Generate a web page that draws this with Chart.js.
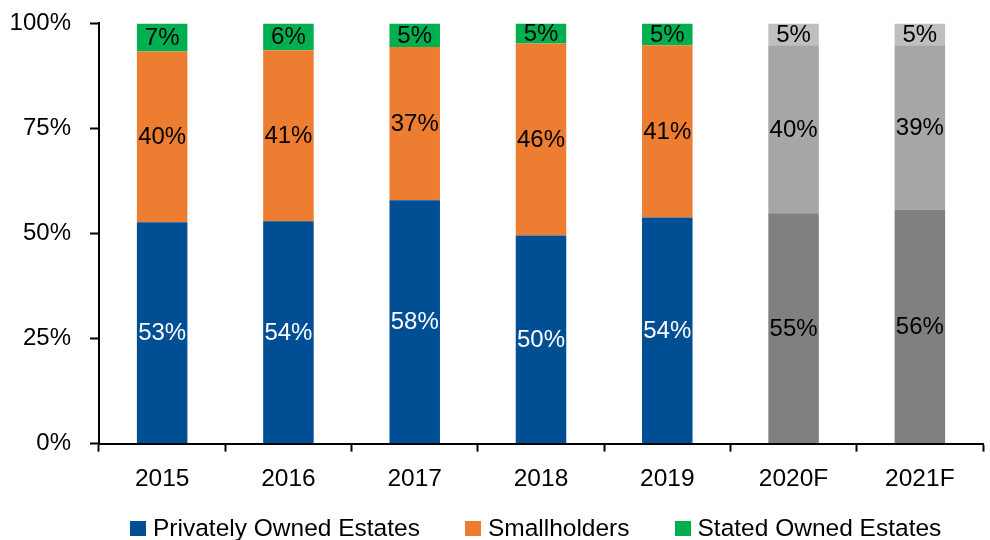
<!DOCTYPE html>
<html>
<head>
<meta charset="utf-8">
<script src="https://cdn.jsdelivr.net/npm/chart.js@4"></script>
<style>
  html, body { margin: 0; padding: 0; background: #fff; overflow: hidden; }
  #wrap { position: relative; width: 990px; height: 540px; overflow: hidden; }
  #caixa { position: absolute; left: 0; top: -10px; width: 990px; height: 550px; }
  #legenda {
    position: absolute; left: 130px; top: 514px;
    display: flex; align-items: center; white-space: nowrap;
    font-family: "Liberation Sans", Arial, sans-serif; font-size: 24.5px; color: #000;
  }
  #legenda .item { display: flex; align-items: center; margin-right: 45px; }
  #legenda .cx { width: 16px; height: 15px; margin-right: 7px; }
</style>
</head>
<body>
<div id="wrap">
  <div id="caixa"><canvas id="canvas"></canvas></div>
  <div id="legenda"></div>
</div>
<script>
// categories
const anos = ['2015', '2016', '2017', '2018', '2019', '2020F', '2021F'];

// share of each segment (%)
const privados = [52.7, 52.9, 57.9, 49.5, 53.8, 54.8, 55.7];
const pequenos = [40.6, 40.7, 36.5, 45.7, 41.0, 40.0, 39.1];
const estatais = [6.7, 6.4, 5.6, 4.8, 5.2, 5.2, 5.2];

// labels printed on the bars
const rotPrivados = [53, 54, 58, 50, 54, 55, 56];
const rotPequenos = [40, 41, 37, 46, 41, 40, 39];
const rotEstatais = [7, 6, 5, 5, 5, 5, 5];

const yTicks = [0, 25, 50, 75, 100];

// forecast years drawn in grey
const previsao = anos.map(a => a.endsWith('F'));

const FONTE = '"Liberation Sans", Arial, sans-serif';

function cores(normal, cinza) {
    return previsao.map(f => f ? cinza : normal);
}

const rotulosPlugin = {
    id: 'rotulos',
    afterDatasetsDraw(chart) {
        const ctx = chart.ctx;
        ctx.save();
        ctx.font = '24px ' + FONTE;
        ctx.textAlign = 'center';
        ctx.textBaseline = 'middle';
        chart.data.datasets.forEach((ds, i) => {
            chart.getDatasetMeta(i).data.forEach((bar, j) => {
                const y = (bar.y + bar.base) / 2;
                ctx.fillStyle = (i === 0 && !previsao[j]) ? '#ffffff' : '#000000';
                ctx.fillText(ds.rotulos[j] + '%', bar.x, y + 1);
            });
        });
        ctx.restore();
    }
};

let ctx = document.getElementById('canvas').getContext('2d');
let grafico = new Chart(ctx, {
    type: 'bar',
    data: {
        labels: anos,
        datasets: [
            {
                label: 'Privately Owned Estates',
                data: privados,
                rotulos: rotPrivados,
                backgroundColor: cores('#004F94', '#808080'),
                legendColor: '#004F94'
            },
            {
                label: 'Smallholders',
                data: pequenos,
                rotulos: rotPequenos,
                backgroundColor: cores('#ED7D31', '#A6A6A6'),
                legendColor: '#ED7D31'
            },
            {
                label: 'Stated Owned Estates',
                data: estatais,
                rotulos: rotEstatais,
                backgroundColor: cores('#00B050', '#BFBFBF'),
                legendColor: '#00B050'
            }
        ]
    },
    options: {
        responsive: true,
        maintainAspectRatio: false,
        animation: false,
        datasets: {
            bar: {
                categoryPercentage: 1,
                barPercentage: 0.4,
                borderWidth: 0
            }
        },
        layout: {
            padding: { left: 0, right: 7, top: 0, bottom: 33 }
        },
        plugins: {
            tooltip: { enabled: false },
            legend: { display: false }
        },
        scales: {
            x: {
                stacked: true,
                grid: {
                    offset: true,
                    drawOnChartArea: false,
                    drawTicks: true,
                    tickLength: 8,
                    tickWidth: 2,
                    tickColor: '#000'
                },
                border: { color: '#000', width: 2 },
                ticks: {
                    color: '#000',
                    padding: 13,
                    font: { family: FONTE, size: 24.5 }
                }
            },
            y: {
                stacked: true,
                min: 0,
                max: 100,
                afterBuildTicks(axis) {
                    axis.ticks = yTicks.map(v => ({ value: v }));
                },
                afterFit(axis) {
                    axis.width = 99;
                },
                grid: {
                    drawOnChartArea: false,
                    drawTicks: true,
                    tickLength: 9,
                    tickWidth: 2,
                    tickColor: '#000'
                },
                border: { color: '#000', width: 2 },
                ticks: {
                    color: '#000',
                    padding: 19,
                    font: { family: FONTE, size: 24 },
                    callback: v => v + '%'
                }
            }
        }
    },
    plugins: [rotulosPlugin]
});

// legend built from the datasets
let legenda = document.getElementById('legenda');
grafico.data.datasets.forEach(ds => {
    let item = document.createElement('div');
    item.className = 'item';
    item.innerHTML = '<span class="cx" style="background:' + ds.legendColor + '"></span><span>' + ds.label + '</span>';
    legenda.appendChild(item);
});
</script>
</body>
</html>
